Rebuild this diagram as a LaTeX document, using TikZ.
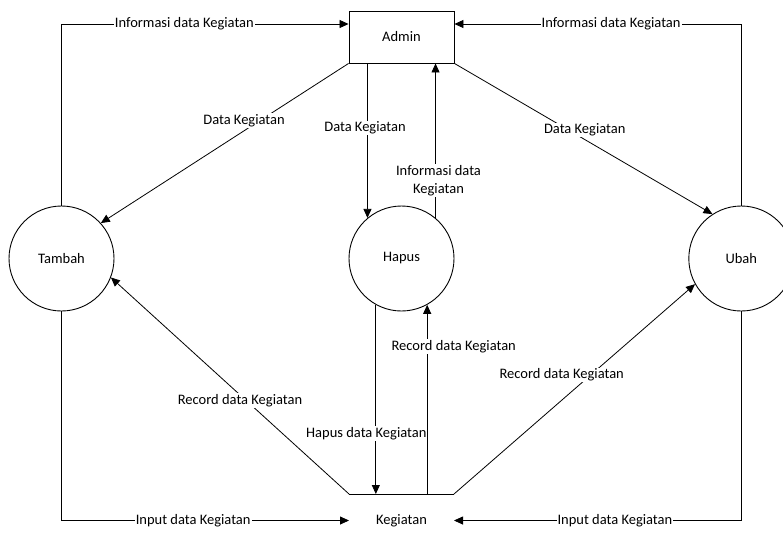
\documentclass[tikz,border=0pt]{standalone}
\usepackage{fontspec}
\setmainfont{Carlito}
\usetikzlibrary{arrows.meta}

\begin{document}
\begin{tikzpicture}[x=1pt, y=-1pt,
    font=\fontsize{14.5}{17.5}\selectfont,
    proc/.style={circle, draw, line width=0.9pt, minimum size=105pt, inner sep=0pt},
    flow/.style={-{Triangle[length=9pt, width=8pt]}, line width=0.8pt},
    lbl/.style={fill=white, inner sep=1pt}]
    \useasboundingbox (0,0) rectangle (783,544);

    % Nodes
    \node[draw, line width=0.9pt, minimum width=105pt, minimum height=52pt] (admin) at (401.5,37) {Admin};
    \node[proc] (tambah) at (61.5,258.5) {Tambah};
    \node[proc] (hapus) at (401.5,258.5) {Hapus};
    \node[proc] (ubah) at (741.3,258.5) {Ubah};
    \node (kegiatan) at (401.5,520.5) {Kegiatan};
    \coordinate (s1) at (349,494);
    \coordinate (s2) at (454,494);
    \draw[line width=0.8pt] (s1) -- (s2);

    % Edges
    \draw[flow] (tambah.north) |- ([yshift=13pt]admin.west) node[lbl, pos=0.714] {Informasi data Kegiatan};
    \draw[flow] (ubah.north) |- ([yshift=13pt]admin.east) node[lbl, pos=0.727] {Informasi data Kegiatan};
    \draw[flow] (admin.south west) -- (tambah.42) node[lbl] at (244,120.5) {Data Kegiatan};
    \draw[flow] (hapus.130 |- admin.south) -- (hapus.130) node[lbl] at (365,128) {Data Kegiatan};
    \draw[flow] (hapus.50) -- (hapus.50 |- admin.south) node[lbl, align=center] at (438.5,180.5) {Informasi data\\Kegiatan};
    \draw[flow] (admin.south east) -- (ubah.123) node[lbl] at (584.7,130) {Data Kegiatan};
    \draw[flow] (hapus.241) -- (hapus.241 |- s1) node[lbl] at (366.3,433.3) {Hapus data Kegiatan};
    \draw[flow] (hapus.-61 |- s1) -- (hapus.-61) node[lbl] at (453.7,346.7) {Record data Kegiatan};
    \draw[flow] (s1) -- (tambah.-21) node[lbl] at (240,400.7) {Record data Kegiatan};
    \draw[flow] (s2) -- (ubah.209) node[lbl] at (561.7,375) {Record data Kegiatan};
    \draw[flow] (tambah.south) |- (s1 |- kegiatan) node[lbl, pos=0.729] {Input data Kegiatan};
    \draw[flow] (ubah.south) |- (s2 |- kegiatan) node[lbl, pos=0.72] {Input data Kegiatan};
\end{tikzpicture}
\end{document}
